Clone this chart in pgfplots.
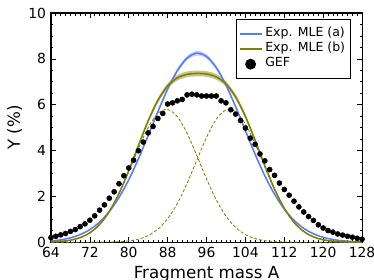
\documentclass[border=0pt]{standalone}
\usepackage{pgfplots}
\pgfplotsset{compat=1.18}
\usepackage{pgfplotstable}
\usepackage{fontspec}
\setmainfont{DejaVu Sans}
\definecolor{bline}{RGB}{85,125,250}
\definecolor{oline}{RGB}{128,128,0}

\pgfplotstableread{
A B T L R
64 0.0549 0.0138 0.0138 0.0000
66 0.1044 0.0367 0.0367 0.0000
68 0.1898 0.0894 0.0894 0.0000
70 0.3303 0.1997 0.1997 0.0001
72 0.550 0.410 0.4095 0.0008
74 0.877 0.773 0.7707 0.0027
76 1.337 1.339 1.3311 0.0082
78 1.951 2.132 2.1087 0.0228
80 2.724 3.124 3.0659 0.0579
82 3.642 4.225 4.090 0.135
84 4.658 5.295 5.006 0.289
86 5.701 6.190 5.6225 0.568
88 6.679 6.818 5.7944 1.024
90 7.488 7.173 5.4793 1.6935
92 8.034 7.324 4.7542 2.5702
94 8.248 7.364 3.7851 3.5793
96 8.104 7.339 2.7652 4.5738
98 7.621 7.216 1.8536 5.3627
100 6.858 6.910 1.1401 5.7695
102 5.906 6.339 0.6435 5.6956
104 4.867 5.492 0.3331 5.1591
106 3.839 4.446 0.1584 4.2880
108 2.897 3.339 0.0690 3.2702
110 2.093 2.316 0.0276 2.2884
112 1.447 1.480 0.0101 1.4695
114 0.957 0.869 0.0034 0.8657
116 0.606 0.469 0.0011 0.4680
118 0.367 0.2325 0.0003 0.2322
120 0.2128 0.1057 0.0000 0.1057
122 0.1181 0.0441 0.0000 0.0441
124 0.0627 0.0169 0.0000 0.0169
126 0.0319 0.0060 0.0000 0.0060
128 0.0155 0.0019 0.0000 0.0019
}\curves

\pgfplotstableread{
A Y
78 1.974
80 2.757
82 3.686
84 4.714
86 5.769
88 6.759
90 7.578
92 8.130
94 8.347
96 8.201
98 7.712
100 6.940
102 5.977
104 4.925
106 3.885
108 2.932
110 2.118
110 2.068
108 2.862
106 3.793
104 4.809
102 5.835
100 6.776
98 7.530
96 8.007
94 8.149
92 7.938
90 7.398
88 6.599
86 5.633
84 4.602
82 3.598
80 2.691
78 1.928
}\bband

\pgfplotstableread{
A Y
78 2.168
80 3.177
82 4.297
84 5.385
86 6.295
88 6.934
90 7.295
92 7.449
94 7.489
96 7.464
98 7.339
100 7.027
102 6.447
104 5.585
106 4.522
108 3.396
110 2.355
110 2.277
108 3.282
106 4.370
104 5.399
102 6.231
100 6.793
98 7.093
96 7.214
94 7.239
92 7.199
90 7.051
88 6.702
86 6.085
84 5.205
82 4.153
80 3.071
78 2.096
}\oband

\pgfplotstableread{
A Y
64 0.20
65 0.26
66 0.32
67 0.38
68 0.47
69 0.55
70 0.68
71 0.80
72 0.96
73 1.15
74 1.40
75 1.63
76 1.92
77 2.20
78 2.55
79 2.90
80 3.24
81 3.58
82 3.99
83 4.37
84 4.77
85 5.05
86 5.40
87 5.62
88 6.03
89 6.08
90 6.17
91 6.23
92 6.43
93 6.46
94 6.43
95 6.38
96 6.38
97 6.38
98 6.38
99 6.17
100 6.08
101 5.78
102 5.59
103 5.31
104 4.98
105 4.54
106 4.27
107 3.85
108 3.55
109 3.17
110 2.92
111 2.58
112 2.30
113 2.05
114 1.79
115 1.54
116 1.32
117 1.12
118 0.95
119 0.76
120 0.62
121 0.51
122 0.44
123 0.36
124 0.31
125 0.26
126 0.22
127 0.17
128 0.13
}\gef

\begin{document}
\begin{tikzpicture}
\begin{axis}[
  at={(0,0)}, anchor=south west,
  scale only axis, width=224pt, height=165pt,
  xmin=64, xmax=128, ymin=0, ymax=10,
  xtick={64,72,...,128}, ytick={0,2,...,10},
  minor x tick num=7, minor y tick num=3,
  tick align=inside,
  major tick length=3.6pt, minor tick length=1.8pt,
  every tick/.style={black, line width=0.5pt},
  axis line style={black, line width=0.8pt},
  /pgf/number format/assume math mode=true,
  ticklabel style={font=\fontsize{10}{12}\selectfont},
  xlabel={Fragment mass A}, ylabel={Y (\%)},
  label style={font=\fontsize{12}{14}\selectfont},
  xlabel style={at={(axis description cs:0.5,-0.157)}, anchor=base},
  ylabel style={at={(axis description cs:-0.0996,0.5)}, anchor=base},
  legend style={at={(0.9646,0.9738)}, anchor=north east, draw=black, line width=0.6pt,
    font=\fontsize{9}{10.5}\selectfont, inner xsep=2pt, inner ysep=5.2pt,
    row sep=0pt,
    nodes={inner ysep=0pt, text height=7.4pt, text depth=3.4pt}},
  legend cell align=left,
]
\addplot[fill=bline!35, draw=none, smooth, forget plot] table[x=A,y=Y]{\bband};
\addplot[fill=oline!45, draw=none, smooth, forget plot] table[x=A,y=Y]{\oband};
\addplot[oline, line width=0.6pt, dash pattern=on 2.2pt off 1.4pt, smooth, forget plot] table[x=A,y=L]{\curves};
\addplot[oline, line width=0.6pt, dash pattern=on 2.2pt off 1.4pt, smooth, forget plot] table[x=A,y=R]{\curves};
\addplot[bline, line width=1.1pt, smooth,
  legend image code/.code={\draw[bline, line width=1.1pt] (0pt,0pt) -- (16pt,0pt);}] table[x=A,y=B]{\curves};
\addlegendentry{Exp. MLE (a)}
\addplot[oline, line width=1.1pt, smooth,
  legend image code/.code={\draw[oline, line width=1.1pt] (0pt,0pt) -- (16pt,0pt);}] table[x=A,y=T]{\curves};
\addlegendentry{Exp. MLE (b)}
\addplot[only marks, mark=*, mark size=1.8pt, black,
  legend image code/.code={\fill[black] (8pt,0pt) circle (3.6pt);}] table[x=A,y=Y]{\gef};
\addlegendentry{GEF}
\end{axis}
\pgfresetboundingbox
\path[use as bounding box] (-36.7pt,-26.6pt) rectangle (232.6pt,174.4pt);
\end{tikzpicture}
\end{document}
